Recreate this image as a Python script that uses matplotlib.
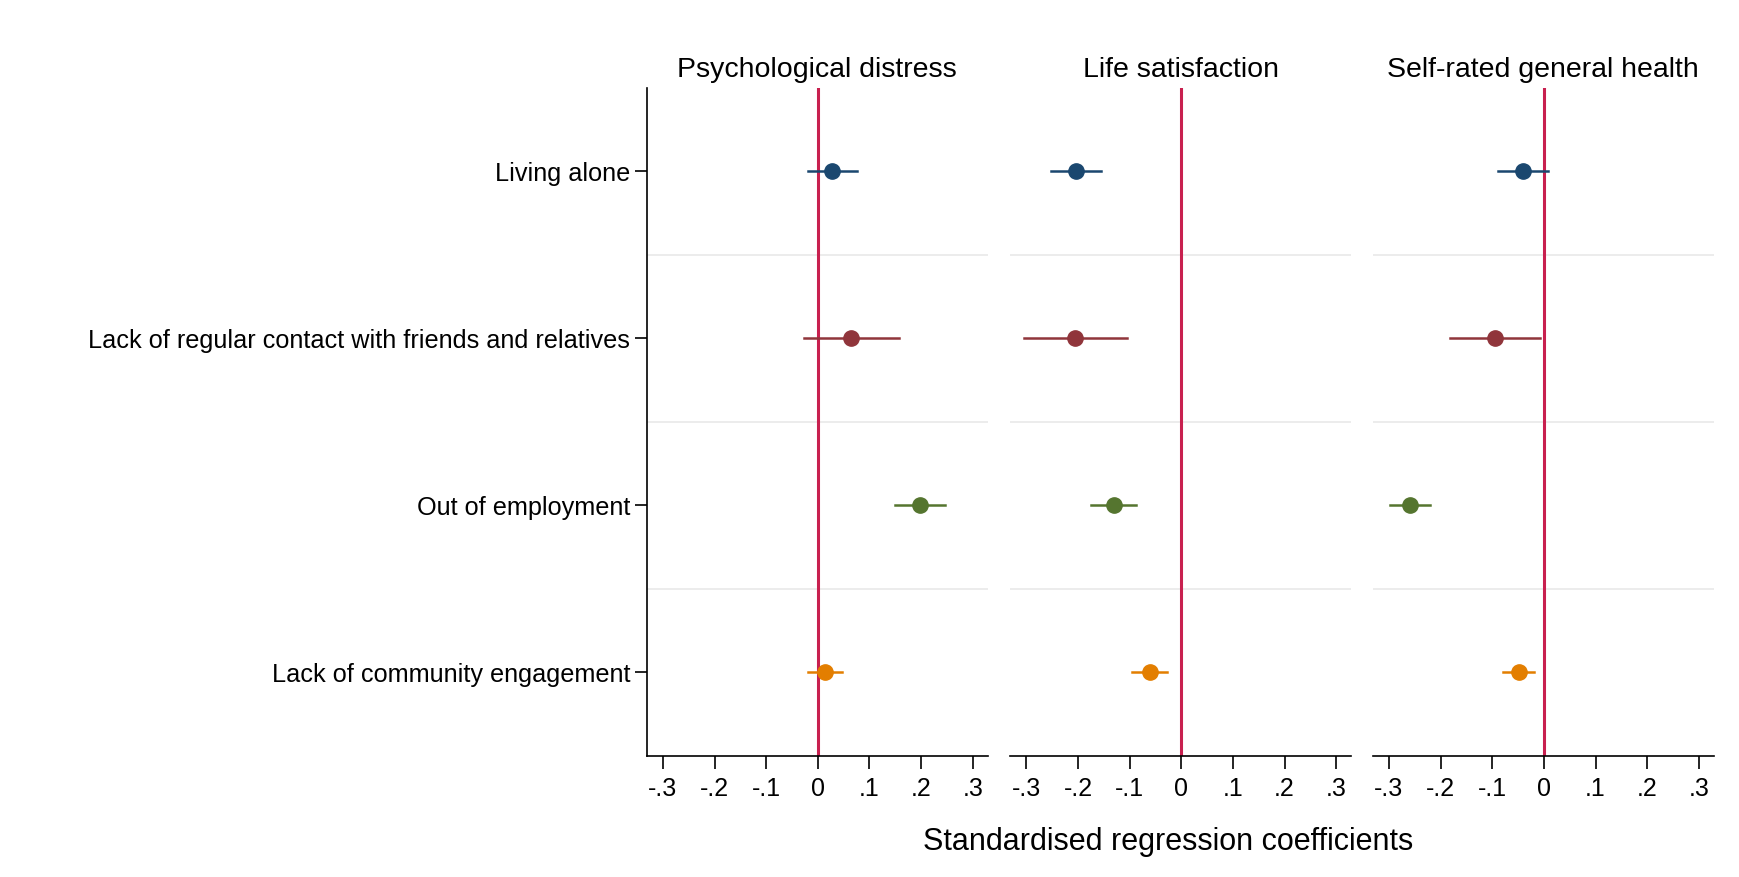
import numpy as np
import matplotlib.pyplot as plt

plt.rcParams['font.family'] = ['Liberation Sans', 'DejaVu Sans']

# outcome panels and predictors
outcomes = ['Psychological distress', 'Life satisfaction', 'Self-rated general health']
predictors = ['Living alone',
              'Lack of regular contact with friends and relatives',
              'Out of employment',
              'Lack of community engagement']
colors = ['#1a476f', '#90353b', '#55752f', '#e37e00']

# point estimates, one list per outcome (rows follow predictors)
coef_distress = [0.028, 0.065, 0.198, 0.014]
coef_lifesat = [-0.204, -0.205, -0.131, -0.061]
coef_health = [-0.040, -0.094, -0.260, -0.049]

# 95% CI bounds
lo_distress = [-0.019, -0.027, 0.149, -0.020]
hi_distress = [0.076, 0.158, 0.247, 0.047]
lo_lifesat = [-0.253, -0.305, -0.175, -0.095]
hi_lifesat = [-0.155, -0.106, -0.087, -0.027]
lo_health = [-0.089, -0.181, -0.298, -0.079]
hi_health = [0.008, -0.008, -0.221, -0.019]

coefs = [coef_distress, coef_lifesat, coef_health]
los = [lo_distress, lo_lifesat, lo_health]
his = [hi_distress, hi_lifesat, hi_health]

xticks = [-0.3, -0.2, -0.1, 0, 0.1, 0.2, 0.3]
xticklabels = ['-.3', '-.2', '-.1', '0', '.1', '.2', '.3']

fig = plt.figure(figsize=(17.39, 8.77), dpi=100)
lefts = [0.372, 0.581, 0.7895]
ypos = np.arange(1, len(predictors) + 1)

for k, name in enumerate(outcomes):
    ax = fig.add_axes([lefts[k], 0.138, 0.196, 0.762])
    ax.set_xlim(-0.331, 0.329)
    ax.set_ylim(4.5, 0.5)
    for y in [1.5, 2.5, 3.5]:
        ax.axhline(y, color='#eaeaea', lw=1.3, zorder=0)
    ax.axvline(0, color='#c8204f', lw=2.2, zorder=1)
    for i in range(len(predictors)):
        ax.plot([los[k][i], his[k][i]], [ypos[i], ypos[i]], color=colors[i], lw=1.8, zorder=2)
        ax.plot(coefs[k][i], ypos[i], 'o', color=colors[i], ms=11, zorder=3)
    ax.set_title(name, fontsize=20.5, pad=8)
    ax.set_xticks(xticks)
    ax.set_xticklabels(xticklabels, fontsize=18)
    ax.tick_params(axis='x', length=9, width=1.2, pad=6)
    for s in ['top', 'right']:
        ax.spines[s].set_visible(False)
    ax.spines['bottom'].set_linewidth(1.2)
    if k == 0:
        ax.set_yticks(ypos)
        ax.set_yticklabels(predictors, fontsize=18.2)
        ax.tick_params(axis='y', length=9, width=1.2, pad=3)
        ax.spines['left'].set_linewidth(1.2)
    else:
        ax.set_yticks([])
        ax.spines['left'].set_visible(False)

fig.text(0.672, 0.04, 'Standardised regression coefficients', fontsize=22, ha='center', va='center')

fig.savefig('out.png', dpi=100)
